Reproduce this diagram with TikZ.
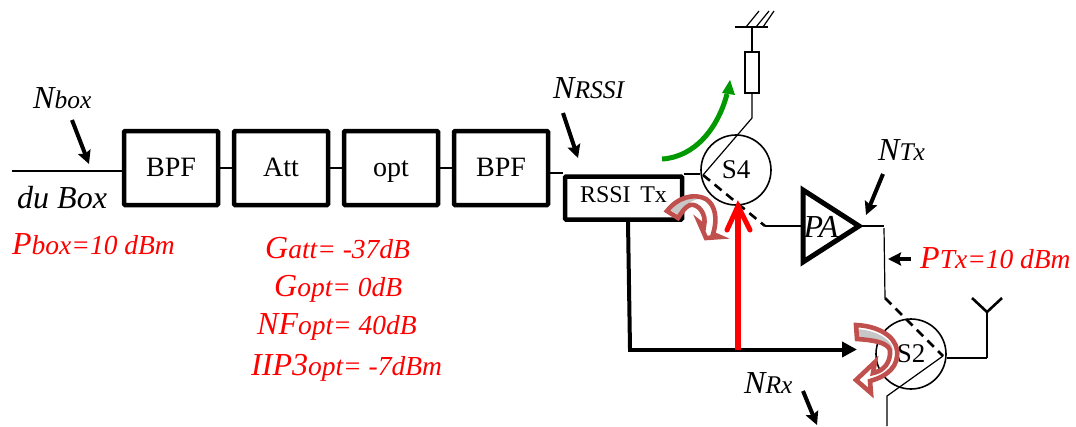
\documentclass[tikz,border=0pt]{standalone}
\usepackage{fontspec}
\setmainfont{Liberation Serif}
\usetikzlibrary{arrows.meta}
\newcommand{\lrg}[1]{{\fontsize{32}{32}\selectfont\itshape #1}}
\newcommand{\sml}[1]{{\fontsize{25.5}{25.5}\selectfont\itshape #1}}
\newcommand{\smr}[1]{{\fontsize{27.5}{27.5}\selectfont\itshape #1}}
\definecolor{redarrow}{RGB}{192,80,77}
\definecolor{grn}{RGB}{0,153,0}
\tikzset{
  block/.style={draw,line width=4.5pt,rounded corners=1pt,minimum width=94pt,minimum height=74pt,font=\fontsize{28}{28}\selectfont,inner sep=0pt,text height=17pt,text depth=0pt},
  wire/.style={line width=1.2pt},
  circ/.style={draw,circle,line width=1.6pt,minimum size=70pt,inner sep=0pt,font=\fontsize{27}{27}\selectfont},
  dashwire/.style={line width=2.6pt,dash pattern=on 9pt off 6pt},
  lab/.style={anchor=base west,inner sep=0pt},
  redlab/.style={lab,text=red},
  pointer/.style={line width=4pt,-{Stealth[length=13pt,width=13pt,inset=2pt]}},
  curl/.style={draw=redarrow,line width=4.6pt,line join=miter},
  curltail/.style={fill=black!22},
}
\begin{document}
\begin{tikzpicture}[x=1pt,y=-1pt]
\useasboundingbox (0,0) rectangle (1076,426);
% blocks
\node[block] (b1) at (171,168) {BPF};
\node[block] (b2) at (281,168) {Att};
\node[block] (b3) at (391,168) {opt};
\node[block] (b4) at (501,168) {BPF};
\node[block,minimum width=117pt,minimum height=43pt,font=\fontsize{24}{24}\selectfont,text height=16pt,text depth=8pt] (rssi) at (623.5,198) {RSSI\hspace{0.4em}Tx};
\node[circ] (s4) at (736,170) {S4};
\node[circ] (s2) at (911,354) {S2};
\node[draw,line width=2pt,minimum width=14pt,minimum height=41pt,inner sep=0pt] (res) at (752,72.5) {};
\node[draw=none,inner sep=0pt,font=\fontsize{32}{32}\selectfont\itshape] (patext) at (821,227) {PA};
% coordinates
\coordinate (in) at (12,171);
\coordinate (gnd) at (752,27);
\coordinate (g1) at (735,27);
\coordinate (g2) at (768,27);
\coordinate (h1a) at (746,27);
\coordinate (h1b) at (759,11);
\coordinate (h2a) at (756,27);
\coordinate (h2b) at (769,11);
\coordinate (h3a) at (763,27);
\coordinate (h3b) at (774,11);
\coordinate (rb) at (752,118);
\coordinate (s4c) at (703,175);
\coordinate (s4d) at (765,226);
\coordinate (pal) at (803,226);
\coordinate (pat) at (803,190);
\coordinate (pab) at (803,262);
\coordinate (pap) at (859,226);
\coordinate (o1) at (884,226);
\coordinate (o2) at (885,298);
\coordinate (s2c) at (943,356);
\coordinate (s2o) at (887,396);
\coordinate (s2e) at (887,426);
\coordinate (ant) at (987,358);
\coordinate (ant2) at (987,312);
\coordinate (a1) at (972,298);
\coordinate (a2) at (1002,298);
% wires
\draw[wire] (in) -- (b1.west |- in);
\draw[wire] (b1.east) -- (b2.west);
\draw[wire] (b2.east) -- (b3.west);
\draw[wire] (b3.east) -- (b4.west);
\draw[wire] (b4.east |- 0,173) -- (rssi.west |- 0,173);
\draw[wire] (rssi.east |- 0,174) -- (s4.west |- 0,174);
\draw[wire,line width=1.6pt] (gnd) -- (res.north);
\draw[wire,line width=1.6pt] (g1) -- (g2);
\draw[wire] (h1a) -- (h1b);
\draw[wire] (h2a) -- (h2b);
\draw[wire] (h3a) -- (h3b);
\draw[wire] (res.south) -- (rb) -- (s4c);
\draw[dashwire] (s4c) -- (s4d);
\draw[wire] (s4d) -- (pal);
\draw[line width=5pt,line join=miter] (pat) -- (pap) -- (pab) -- cycle;
\draw[wire] (pap) -- (o1);
\draw[wire] (o1 |- 0,228) -- (o2);
\draw[dashwire] (o2) -- (s2c);
\draw[wire] (s2c) -- (s2o) -- (s2e);
\draw[wire] (s2.east |- ant) -- (ant);
\draw[line width=1.6pt] (ant) -- (ant2);
\draw[line width=2.6pt] (a1) -- (ant2) -- (a2);
% thick feed
\draw[line width=4pt] (rssi.south -| 628,0) -- (630,349);
\draw[line width=4pt,-{Triangle[length=15pt,width=15pt]}] (628,349.5) -- (857,349.5);
% red arrow
\coordinate (rtip) at (738,206);
\coordinate (rbase) at (738,350);
\coordinate (ra) at (727,230);
\coordinate (rb2) at (750,230);
\draw[red,line width=6pt] (rbase) -- (rtip);
\draw[red,line width=5pt,line cap=round,line join=miter] (ra) -- (rtip) -- (rb2);
% green arrow
\coordinate (gs) at (662,159);
\coordinate (ge) at (727,94);
\coordinate (gt) at (730,80);
\draw[grn,line width=5pt] (gs) .. controls (695,157) and (718,128) .. (ge);
\fill[grn] (gt) -- (735,95) -- (722,93) -- cycle;
% curl arrows
\fill[white] (667,211) .. controls (678,197) and (694,193) .. (706,199) .. controls (715,205) and (718,218) .. (713,234) -- (720,237) -- (706,238) -- (699,222) -- (704,226) .. controls (707,214) and (698,203) .. (690,205) .. controls (685,207) and (682,212) .. (678,218) -- cycle;
\path[curltail] (671,210) .. controls (680,200) and (690,197) .. (698,199) .. controls (690,201) and (684,206) .. (678,215) -- cycle;
\path[curl] (667,211) .. controls (678,197) and (694,193) .. (706,199) .. controls (715,205) and (718,218) .. (713,234) -- (720,237) -- (706,238) -- (699,222) -- (704,226) .. controls (707,214) and (698,203) .. (690,205) .. controls (685,207) and (682,212) .. (678,218) -- cycle;
\fill[white] (856,325) .. controls (878,326) and (895,336) .. (897,350) .. controls (899,366) and (888,376) .. (870,381) -- (871,393) -- (856,380) -- (875,362) -- (873,373) .. controls (884,371) and (891,362) .. (890,350) .. controls (887,342) and (872,340) .. (857,339) -- cycle;
\path[curltail] (856,329) .. controls (875,330) and (890,338) .. (893,349) .. controls (885,341) and (870,338) .. (856,337) -- cycle;
\path[curl] (856,325) .. controls (878,326) and (895,336) .. (897,350) .. controls (899,366) and (888,376) .. (870,381) -- (871,393) -- (856,380) -- (875,362) -- (873,373) .. controls (884,371) and (891,362) .. (890,350) .. controls (887,342) and (872,340) .. (857,339) -- cycle;
% pointers
\coordinate (p1a) at (72,120); \coordinate (p1b) at (89,164);
\coordinate (p2a) at (563,113); \coordinate (p2b) at (578,158);
\coordinate (p3a) at (883,174); \coordinate (p3b) at (866,215);
\coordinate (p4a) at (911,259); \coordinate (p4b) at (888,259);
\coordinate (p5a) at (803,391); \coordinate (p5b) at (817,425);
\draw[pointer] (p1a) -- (p1b);
\draw[pointer] (p2a) -- (p2b);
\draw[pointer] (p3a) -- (p3b);
\draw[pointer] (p4a) -- (p4b);
\draw[pointer] (p5a) -- (p5b);
% labels
\node[lab] (nbox) at (33,108) {\lrg{N}\sml{box}};
\node[lab] (dubox) at (17,208) {\lrg{du Box}};
\node[redlab] (pbox) at (12,254) {\lrg{P}\smr{box=10 dBm}};
\node[redlab] (gatt) at (265,258) {\lrg{G}\smr{att= -37dB}};
\node[redlab] (gopt) at (274,296) {\lrg{G}\smr{opt= 0dB}};
\node[redlab] (nfopt) at (257,334) {\lrg{NF}\smr{opt= 40dB}};
\node[redlab] (iip) at (251,375) {\lrg{IIP3}\smr{opt= -7dBm}};
\node[lab] (nrssi) at (553,98) {\lrg{N}\sml{RSSI}};
\node[lab] (ntx) at (878,160) {\lrg{N}\sml{Tx}};
\node[redlab] (ptx) at (920,268) {\lrg{P}\smr{Tx=10 dBm}};
\node[lab] (nrx) at (744,393) {\lrg{N}\sml{Rx}};
\end{tikzpicture}
\end{document}
